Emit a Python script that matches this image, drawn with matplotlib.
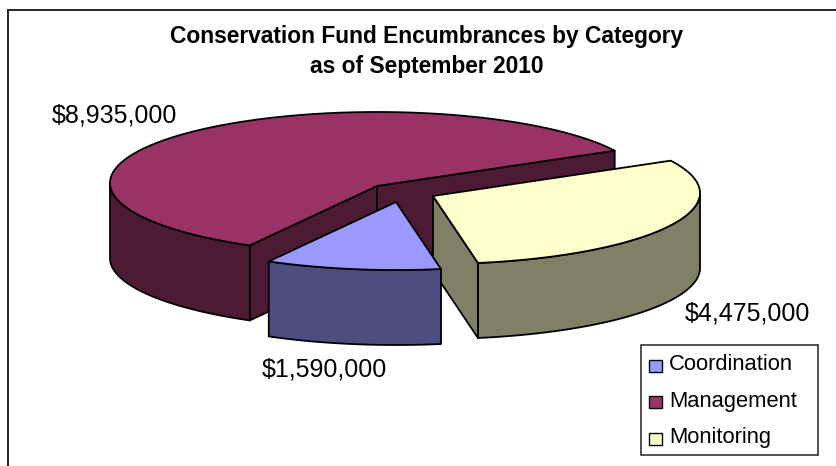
import numpy as np
import matplotlib
matplotlib.use("Agg")
import matplotlib.pyplot as plt
from matplotlib.patches import Polygon, Rectangle

plt.rcParams['font.family']=['Liberation Sans','DejaVu Sans']

categories=["Coordination","Management","Monitoring"]
values=[1590000,8935000,4475000]
value_labels=["$1,590,000","$8,935,000","$4,475,000"]
top_colors=["#9999ff","#993366","#ffffcc"]
wall_colors=["#4d4d80","#4d1a33","#808066"]

title_lines=["Conservation Fund Encumbrances by Category","as of September 2010"]

# pseudo 3D geometry, all in pixels of the picture
rx=267
ry=71
depth=75
rim_shift=-3
start_angle=27+214.5+38.2
tips={"Coordination":(396,202),"Management":(377,186),"Monitoring":(433,196)}
lw=1.3

def rim(tip,a0,a1):
    # clockwise from a0 to a1
    t=np.radians(np.linspace(a0,a1,int(abs(a0-a1))+2))
    x=tip[0]+rx*np.cos(t)
    y=tip[1]+rim_shift-ry*np.sin(t)
    return np.column_stack([x,y])

def wall(ax,pts,color):
    low=pts[::-1]+np.array([0,depth])
    ax.add_patch(Polygon(np.vstack([pts,low]),closed=True,fc=color,ec="black",lw=lw,joinstyle="round"))

fig=plt.figure(figsize=(8.37,4.66),dpi=100)
ax=fig.add_axes([0,0,1,1])
ax.set_xlim(0,837)
ax.set_ylim(466,0)
ax.axis("off")

# chart frame, right and bottom sides are cropped off
ax.plot([8,8,837],[466,9.5,9.5],color="#111111",lw=1.3,solid_joinstyle="miter")

fractions=np.array(values)/sum(values)
spans=fractions*360
ends=start_angle-np.cumsum(spans)
starts=ends+spans

def draw_slice(i):
    name=categories[i]
    tip=np.array(tips[name],dtype=float)
    a0,a1=starts[i],ends[i]
    arc=rim(tip,a0,a1)
    if name=="Management":
        # cut faces seen from the front, then the left rim
        wall(ax,np.array([tip,arc[-1]]),wall_colors[i])
        wall(ax,np.array([arc[0],tip]),wall_colors[i])
        wall(ax,rim(tip,a0,180),wall_colors[i])
    elif name=="Monitoring":
        wall(ax,np.array([tip,arc[-1]]),wall_colors[i])
        wall(ax,rim(tip,0,a1),wall_colors[i])
    else:
        wall(ax,arc,wall_colors[i])
    ax.add_patch(Polygon(np.vstack([tip,arc]),closed=True,fc=top_colors[i],ec="black",lw=lw,joinstyle="round"))

draw_slice(1)
draw_slice(2)
draw_slice(0)

ax.text(427,37,title_lines[0],ha="center",va="center",fontsize=16.35,fontweight="bold")
ax.text(427,66,title_lines[1],ha="center",va="center",fontsize=16.35,fontweight="bold")

ax.text(262,369,value_labels[0],ha="left",va="center",fontsize=18)
ax.text(52,115,value_labels[1],ha="left",va="center",fontsize=18)
ax.text(685,313,value_labels[2],ha="left",va="center",fontsize=18)

# legend
ax.add_patch(Rectangle((641,345),177,110,fc="white",ec="#222222",lw=1.1))
for i,yy in enumerate([366,402,439]):
    ax.add_patch(Rectangle((649,yy-6),13,12,fc=top_colors[i],ec="black",lw=1.0))
    ax.text(669,yy+4.5,categories[i],ha="left",va="baseline",fontsize=15.8)

plt.savefig("out.png",dpi=100)
